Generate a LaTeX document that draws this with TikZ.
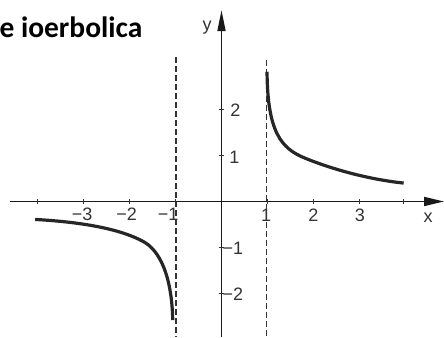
\documentclass[tikz,border=0pt]{standalone}
\usepackage{fontspec}
\setmainfont{Liberation Sans}
\newfontfamily\titlefont{Carlito}
\usetikzlibrary{arrows.meta}
\begin{document}
\begin{tikzpicture}[x=46pt,y=46pt,
  axis/.style={line width=1.7pt,black!90},
  asym/.style={line width=1.2pt,black!80,dash pattern=on 6pt off 3pt},
  curve/.style={line width=3.2pt,black!85},
  tick/.style={line width=1pt,black!80},
  lab/.style={font=\fontsize{18}{18}\selectfont,text=black!80,inner sep=0pt}]
\useasboundingbox (-4.815,-2.946) rectangle (4.837,4.380);
\fill[white] (-4.815,-2.946) rectangle (4.837,4.380);
% title
\node[anchor=base west,inner sep=0pt,font=\titlefont\bfseries\fontsize{29.5}{30}\selectfont] (title) at (-4.83,3.554) {e ioerbolica};
% asymptotes
\coordinate (a1t) at (-0.99,3.14);
\coordinate (a1b) at (-0.99,-2.946);
\coordinate (a2t) at (0.98,3.08);
\coordinate (a2b) at (0.98,-2.946);
\draw[asym] (a1t) -- (a1b);
\draw[asym] (a2t) -- (a2b);
% axes
\coordinate (xs) at (-4.59,0);
\coordinate (xe) at (4.837,0);
\coordinate (ys) at (0,-2.946);
\coordinate (ye) at (0,4.16);
\draw[axis,-{Triangle[length=20pt,width=9pt]}] (xs) -- (xe);
\draw[axis,-{Triangle[length=21pt,width=8pt]}] (ys) -- (ye);
% ticks
\foreach \t in {-4,-3,-2,-1,1,2,3,3.95}
  \draw[tick] (\t,-0.06) -- (\t,0.06);
\foreach \t in {-2,-1,1,2}
  \draw[tick] (-0.06,\t) -- (0.06,\t);
% labels
\node[lab] (lx3) at (-3.03,-0.28) {−3};
\node[lab] (lx2) at (-2.06,-0.28) {−2};
\node[lab] (lx1) at (-1.16,-0.28) {−1};
\node[lab] (px1) at (0.97,-0.30) {1};
\node[lab] (px2) at (2.0,-0.30) {2};
\node[lab] (px3) at (3.01,-0.30) {3};
\node[lab] (xl) at (4.49,-0.36) {x};
\node[lab] (yl) at (-0.315,3.79) {y};
\node[lab] (py2) at (0.30,1.99) {2};
\node[lab] (py1) at (0.28,0.97) {1};
\node[lab] (ny1) at (0.25,-1.01) {−1};
\node[lab] (ny2) at (0.25,-2.01) {−2};
% curves
\draw[curve] (0.99,2.82) .. controls (1.0,1.5) and (1.3,1.15) .. (1.82,0.94)
  .. controls (2.52,0.657) and (3.3,0.47) .. (3.96,0.40);
\draw[curve] (-4.05,-0.39) .. controls (-3.0,-0.45) and (-2.2,-0.6) .. (-1.70,-0.87)
  .. controls (-1.35,-1.06) and (-1.08,-1.6) .. (-1.06,-2.58);
\end{tikzpicture}
\end{document}
